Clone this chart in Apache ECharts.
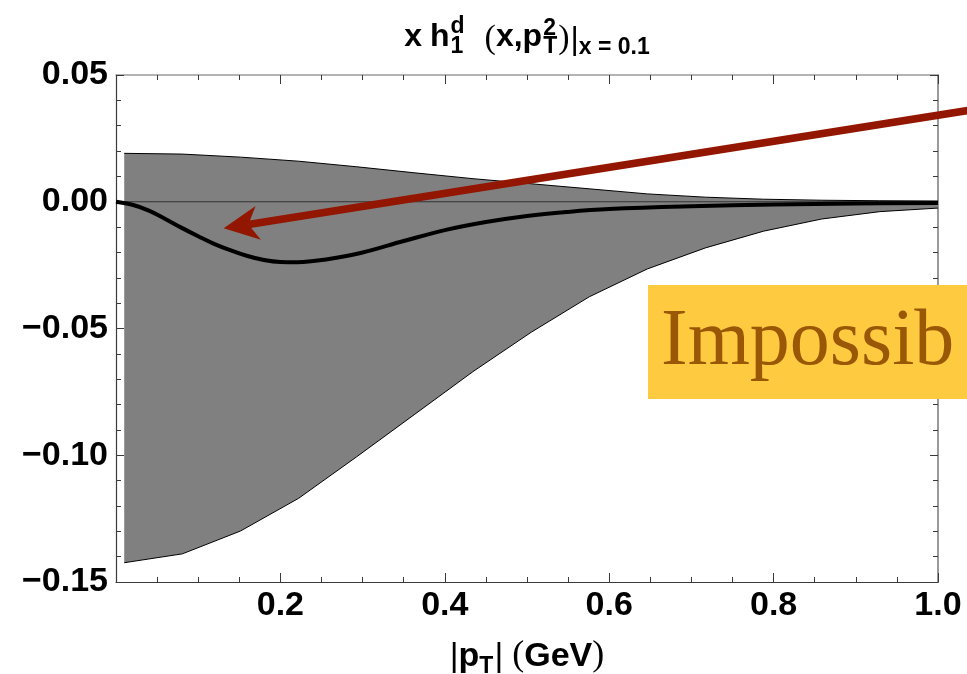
<!DOCTYPE html>
<html><head><meta charset="utf-8">
<script src="https://cdn.jsdelivr.net/npm/echarts@6/dist/echarts.min.js"></script>
<style>html,body{margin:0;padding:0;background:#fff}#c{width:967px;height:674px}</style>
</head><body><div id="c"></div>
<script>
// ---- data ----
const bandX = [0.01,0.0807,0.1514,0.2221,0.2928,0.3636,0.4343,0.5050,0.5757,0.6464,0.7171,0.7879,0.8586,0.9293,1.0];
const bandUpper = [0.0191,0.0188,0.0176,0.0160,0.0138,0.0114,0.0091,0.0071,0.0051,0.0031,0.0018,0.0010,0.0006,0.0004,0.0003];
const bandLower = [-0.1424,-0.1389,-0.1299,-0.1170,-0.1006,-0.0838,-0.0670,-0.0515,-0.0375,-0.0265,-0.0182,-0.0116,-0.0068,-0.0039,-0.0025];
const curveX = [0,0.02,0.04,0.06,0.08,0.10,0.12,0.14,0.16,0.18,0.20,0.22,0.24,0.27,0.30,0.35,0.40,0.45,0.50,0.55,0.60,0.70,0.80,0.90,1.00];
const curveY = [0,-0.0012,-0.0035,-0.0068,-0.0103,-0.0136,-0.0167,-0.0192,-0.0214,-0.0230,-0.0238,-0.0239,-0.0234,-0.0220,-0.0200,-0.0155,-0.0112,-0.0080,-0.0056,-0.0040,-0.0029,-0.0018,-0.0011,-0.0007,-0.0005];
const xTickLabels = ['0.2','0.4','0.6','0.8','1.0'];
const yTickLabels = ['0.05','0.00','\u22120.05','\u22120.10','\u22120.15'];
const arrowTail = [1.06, 0.0372];
const arrowTip = [0.131, -0.0105];
const bannerText = 'Impossib';

const SANS = '"Liberation Sans", Arial, Helvetica, sans-serif';
const SERIF = '"Liberation Serif", "Times New Roman", serif';
const chart = echarts.init(document.getElementById('c'), null, {renderer:'canvas'});

const frameDark = '#3a3a3a', frameLight = '#9a9a9a';
function xLabel(v){ const s=v.toFixed(1); return xTickLabels.indexOf(s)>=0 ? s : ''; }
function yLabel(v){ const s=(v<0?'\u2212':'')+Math.abs(v).toFixed(2); return yTickLabels.indexOf(s)>=0 ? s : ''; }

const option = {
  animation:false,
  backgroundColor:'#fff',
  grid:{left:116, right:29, top:75, bottom:92},
  xAxis:[
    {type:'value', position:'bottom', min:0, max:1, interval:0.2,
     axisLine:{show:true, onZero:false, lineStyle:{color:frameDark, width:1.2}},
     axisTick:{show:true, inside:true, length:9, lineStyle:{color:frameDark, width:1}},
     minorTick:{show:true, splitNumber:4, length:5, lineStyle:{color:frameDark, width:1}},
     splitLine:{show:false},
     axisLabel:{show:true, showMinLabel:false, margin:7, fontSize:34, fontWeight:'bold', fontFamily:SANS, color:'#000', formatter:xLabel}},
    {type:'value', position:'top', min:0, max:1, interval:0.2,
     axisLine:{show:true, onZero:false, lineStyle:{color:frameLight, width:1.5}},
     axisTick:{show:true, inside:true, length:9, lineStyle:{color:frameDark, width:1}},
     minorTick:{show:true, splitNumber:4, length:5, lineStyle:{color:frameDark, width:1}},
     splitLine:{show:false}, axisLabel:{show:false}}
  ],
  yAxis:[
    {type:'value', position:'left', min:-0.15, max:0.05, interval:0.05,
     axisLine:{show:true, onZero:false, lineStyle:{color:frameDark, width:1.2}},
     axisTick:{show:true, inside:true, length:8, lineStyle:{color:frameDark, width:1}},
     minorTick:{show:true, splitNumber:5, length:5, lineStyle:{color:frameDark, width:1}},
     splitLine:{show:false},
     axisLabel:{show:true, margin:8, fontSize:34, fontWeight:'bold', fontFamily:SANS, color:'#000', padding:[0,0,6,0], formatter:yLabel}},
    {type:'value', position:'right', min:-0.15, max:0.05, interval:0.05,
     axisLine:{show:true, onZero:false, lineStyle:{color:frameLight, width:2}},
     axisTick:{show:true, inside:true, length:8, lineStyle:{color:frameDark, width:1}},
     minorTick:{show:true, splitNumber:5, length:5, lineStyle:{color:frameDark, width:1}},
     splitLine:{show:false}, axisLabel:{show:false}}
  ],
  series:[
    {type:'custom', name:'band', xAxisIndex:0, yAxisIndex:0, silent:true, z:1, clip:false,
     data:[[bandX[0], bandUpper[0]]],
     renderItem:function(params, api){
       const pts=[];
       for(let i=0;i<bandX.length;i++) pts.push(api.coord([bandX[i], bandUpper[i]]));
       for(let i=bandX.length-1;i>=0;i--) pts.push(api.coord([bandX[i], bandLower[i]]));
       return {type:'polygon', shape:{points:pts}, style:{fill:'#808080', stroke:null}};
     }},
    {type:'line', name:'upper', data:bandX.map((x,i)=>[x,bandUpper[i]]), symbol:'none', silent:true, z:2,
     lineStyle:{color:'#000', width:1}},
    {type:'line', name:'lower', data:bandX.map((x,i)=>[x,bandLower[i]]), symbol:'none', silent:true, z:2,
     lineStyle:{color:'#000', width:1}},
    {type:'line', name:'zero', data:[[0,0],[1,0]], symbol:'none', silent:true, z:3,
     lineStyle:{color:'#333', width:1}},
    {type:'line', name:'central', data:curveX.map((x,i)=>[x,curveY[i]]), symbol:'none', smooth:0.4, silent:true, z:4,
     lineStyle:{color:'#000', width:4}}
  ]
};
chart.setOption(option);

// ---- annotations: title, axis name, arrow, banner ----
const mctx = document.createElement('canvas').getContext('2d');
function fontStr(p){ return (p.w||'normal')+' '+p.s+'px '+p.f; }
function measure(p){ mctx.font = fontStr(p); return mctx.measureText(p.t).width; }
// pieces: {t,f,s,w,b(baseline offset),gap} ; stacked pieces: {stack:[p1,p2], gap}
function layoutLine(pieces, centerX, baseline){
  let total=0;
  const widths = pieces.map(p=>{
    const wv = p.stack ? Math.max.apply(null, p.stack.map(measure)) : measure(p);
    total += wv + (p.gap||0);
    return wv;
  });
  let x = centerX - total/2;
  const out=[];
  pieces.forEach((p,i)=>{
    x += (p.gap||0);
    const list = p.stack ? p.stack : [p];
    list.forEach(q=>{
      const k = q.f===SERIF ? 0.3375 : 0.3465;
      const by = baseline + (q.b||0);
      out.push({type:'text', x:x, y:by - k*q.s, z:100, silent:true,
        style:{text:q.t, fontFamily:q.f, fontSize:q.s, fontWeight:q.w||'normal', fill:'#000', align:'left', verticalAlign:'middle'}});
    });
    x += widths[i];
  });
  return out;
}
const g = [];
const TM=32, TS=23;
// title: x h_1^d (x,p_T^2)|_{x=0.1}
g.push.apply(g, layoutLine([
  {t:'x', f:SANS, s:TM, w:'bold'},
  {t:'h', f:SANS, s:TM, w:'bold', gap:8},
  {stack:[{t:'d', f:SANS, s:TS, w:'bold', b:-13},{t:'1', f:SANS, s:TS, w:'bold', b:7}], gap:1},
  {t:'(', f:SERIF, s:34, b:3, gap:20},
  {t:'x,p', f:SANS, s:TM, w:'bold'},
  {stack:[{t:'2', f:SANS, s:TS, w:'bold', b:-11},{t:'T', f:SANS, s:TS, w:'bold', b:7}], gap:1},
  {t:')', f:SERIF, s:34, b:3, gap:1},
  {t:'|', f:SANS, s:TM, b:3, gap:1},
  {t:'x = 0.1', f:SANS, s:TS, w:'bold', b:8}
], 527, 48));
// axis name: |p_T| (GeV)
g.push.apply(g, layoutLine([
  {t:'|', f:SANS, s:34},
  {t:'p', f:SANS, s:34, w:'bold'},
  {t:'T', f:SANS, s:23, w:'bold', b:7},
  {t:'|', f:SANS, s:34, gap:1},
  {t:'(', f:SERIF, s:36, gap:9},
  {t:'GeV', f:SANS, s:34, w:'bold'},
  {t:')', f:SERIF, s:36}
], 527, 668));

// arrow (data coordinates converted through the grid)
const tail = chart.convertToPixel({gridIndex:0}, arrowTail);
const tip = chart.convertToPixel({gridIndex:0}, arrowTip);
const dx = tail[0]-tip[0], dy = tail[1]-tip[1], L = Math.hypot(dx,dy);
const ux = dx/L, uy = dy/L, nx = -uy, ny = ux;
const headLen = 35, headHalf = 17, notch = 25;
const b1 = [tip[0]+ux*headLen+nx*headHalf, tip[1]+uy*headLen+ny*headHalf];
const b2 = [tip[0]+ux*headLen-nx*headHalf, tip[1]+uy*headLen-ny*headHalf];
const nt = [tip[0]+ux*notch, tip[1]+uy*notch];
const arrowColor = '#921600';
g.push({type:'polyline', z:110, silent:true, shape:{points:[nt, tail]}, style:{stroke:arrowColor, lineWidth:7.5, fill:null}});
g.push({type:'polygon', z:111, silent:true, shape:{points:[tip,b1,nt,b2]}, style:{fill:arrowColor, stroke:null}});

// banner
g.push({type:'rect', z:120, silent:true, shape:{x:648, y:285, width:330, height:114}, style:{fill:'#FDCA40'}});
g.push({type:'text', z:121, silent:true, x:661, y:370-0.3375*80,
  style:{text:bannerText, fontFamily:SERIF, fontSize:80, fill:'#9A5806', align:'left', verticalAlign:'middle'}});

chart.setOption({graphic:g});
</script>
</body></html>
